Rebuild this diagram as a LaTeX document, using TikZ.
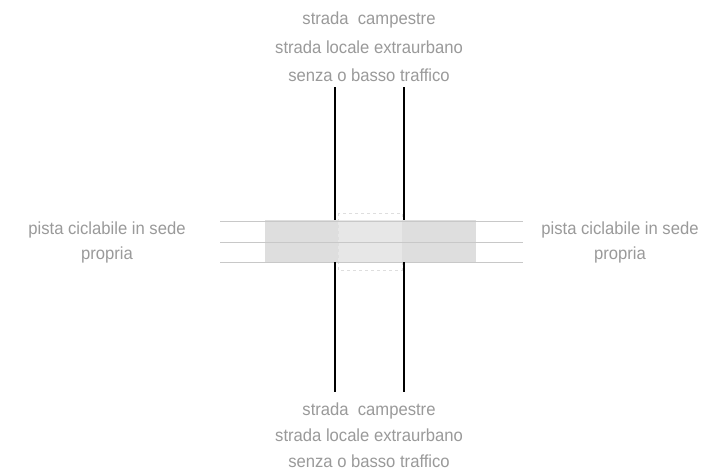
\documentclass[tikz,border=0pt]{standalone}
\usepackage{fontspec}
\setmainfont{Liberation Sans}[FakeStretch=0.95]
\definecolor{txt}{HTML}{9A9A9A}
\definecolor{band}{HTML}{DEDEDE}
\definecolor{bandc}{HTML}{E7E7E7}
\definecolor{thinc}{HTML}{C8C8C8}
\begin{document}
\begin{tikzpicture}[x=1pt,y=-1pt,
  lbl/.style={text=txt,font=\fontsize{17.5}{26}\selectfont,align=center,inner sep=0pt},
  road/.style={line width=2pt,black},
  edge/.style={draw=thinc,line width=0.8pt}]
\useasboundingbox (0,0) rectangle (708,472);
\fill[white] (0,0) rectangle (708,472);
% band
\fill[band] (265,220) rectangle (476,263);
\fill[bandc] (338,220) rectangle (402,263);
\draw[thinc!60,dashed,line width=0.6pt] (338,213) rectangle (402,270);
% thin lines
\coordinate (l1a) at (220,221); \coordinate (l1b) at (523,221);
\coordinate (l2a) at (220,242); \coordinate (l2b) at (523,242);
\coordinate (l3a) at (220,262); \coordinate (l3b) at (523,262);
\draw[edge] (l1a) -- (l1b);
\draw[edge] (l2a) -- (l2b);
\draw[edge] (l3a) -- (l3b);
% roads
\coordinate (at) at (335,87); \coordinate (ab) at (335,220);
\coordinate (bt) at (404,87); \coordinate (bb) at (404,220);
\coordinate (ct) at (335,262); \coordinate (cb) at (335,392);
\coordinate (dt) at (404,262); \coordinate (db) at (404,392);
\draw[road] (at) -- (ab);
\draw[road] (bt) -- (bb);
\draw[road] (ct) -- (cb);
\draw[road] (dt) -- (db);
% labels
\node[lbl,font=\fontsize{17.5}{28.5}\selectfont] (top) at (369,47) {strada\ \ campestre\\strada locale extraurbano\\senza o basso traffico};
\node[lbl] (bot) at (369,435) {strada\ \ campestre\\strada locale extraurbano\\senza o basso traffico};
\node[lbl,font=\fontsize{17.5}{25}\selectfont] (left) at (107,242.5) {pista ciclabile in sede\\propria};
\node[lbl,font=\fontsize{17.5}{25}\selectfont] (right) at (620,242.5) {pista ciclabile in sede\\propria};
\end{tikzpicture}
\end{document}
